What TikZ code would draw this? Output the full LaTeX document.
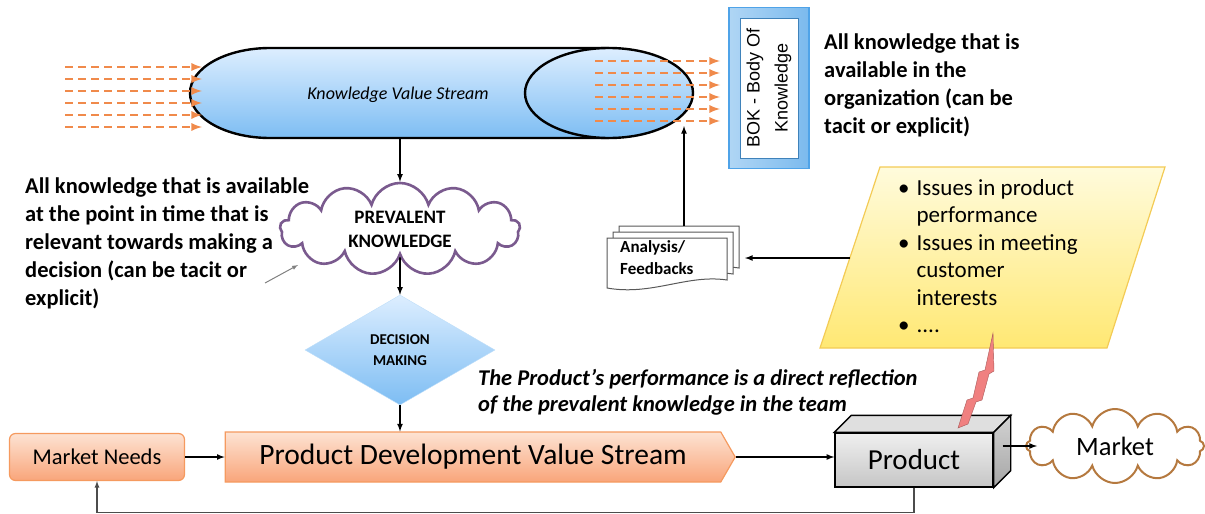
\documentclass[tikz,border=0pt]{standalone}
\usepackage{fontspec}
\setmainfont{Carlito}
\newfontfamily\bokfont{Liberation Sans}
\usetikzlibrary{shapes.symbols,shapes.geometric,positioning}
\definecolor{kvstop}{HTML}{DDEEFF}
\definecolor{kvsbot}{HTML}{7DBDF3}
\definecolor{dashorange}{HTML}{F08A4B}
\definecolor{cloudpurple}{HTML}{7A5A8E}
\definecolor{cloudbrown}{HTML}{B5793F}
\definecolor{pdtop}{HTML}{FDE3D3}
\definecolor{pdbot}{HTML}{F9A57A}
\definecolor{pdline}{HTML}{F59A5F}
\definecolor{yeltop}{HTML}{FFFBDC}
\definecolor{yelbot}{HTML}{FFE873}
\definecolor{yelline}{HTML}{F3CB55}
\definecolor{bokblue}{HTML}{4FA3E8}
\definecolor{bolt}{HTML}{F08080}
\tikzset{
  flowarrow/.style={-latex,line width=1.6pt},
  dasharrow/.style={-latex,dashorange,line width=2.6pt,dash pattern=on 8pt off 5pt},
  notetext/.style={anchor=north west,inner sep=0pt,align=left,font=\bfseries\fontsize{22.5}{28}\selectfont},
  orangebox/.style={draw=pdline,line width=1.2pt,top color=pdtop,bottom color=pdbot},
  docbox/.style={draw=gray!70!black,line width=1pt,fill=white}
}
\begin{document}
\begin{tikzpicture}[x=1pt,y=-1pt]
\useasboundingbox (0,0) rectangle (1205,514);
% knowledge value stream (cylinder)
\fill [top color=kvstop,bottom color=kvsbot] (270,48) -- (609,48) -- (609,138) -- (270,138)
   .. controls (225.8,138) and (190,117.9) .. (190,93)
   .. controls (190,68.1) and (225.8,48) .. (270,48) -- cycle;
\draw [line width=2.4pt] (609,48) -- (270,48) .. controls (225.8,48) and (190,68.1) .. (190,93)
   .. controls (190,117.9) and (225.8,138) .. (270,138) -- (609,138);
\draw [line width=2.4pt,top color=kvstop,bottom color=kvsbot] (609,93) ellipse [x radius=84,y radius=45];
\node [font=\itshape\fontsize{18}{22}\selectfont] (kvs) at (398,95) {Knowledge Value Stream};
\coordinate (kvsB) at (400,139);
\coordinate (kvsR) at (684,126);
\foreach \y in {67,79,...,127}
  \draw [dasharrow] (65,\y) -- (202,\y);
\foreach \y in {61,73,...,121}
  \draw [dasharrow] (595,\y) -- (720,\y);
% body of knowledge
\node [draw=bokblue,line width=1.2pt,left color=bokblue!45,right color=bokblue!75,minimum width=80pt,minimum height=161pt] (bok) at (769,88) {};
\node [draw=bokblue!80!black,line width=1pt,fill=white,minimum width=58pt,minimum height=140pt] (bokin) at (bok) {};
\node [rotate=90,align=center,font=\bokfont\fontsize{18}{28}\selectfont] at (bok) {BOK - Body Of\\Knowledge};
\node [notetext] (orgnote) at (824,34) {All knowledge that is\\available in the\\organization (can be\\tacit or explicit)};
% prevalent knowledge
\node [cloud,cloud puffs=13,cloud ignores aspect,draw=cloudpurple,line width=2.6pt,fill=white,
   minimum width=240pt,minimum height=92pt,align=center,font=\bfseries\fontsize{19}{24}\selectfont] (prev) at (400,229) {PREVALENT\\KNOWLEDGE};
\node [notetext] (prevnote) at (25,178) {All knowledge that is available\\at the point in time that is\\relevant towards making a\\decision (can be tacit or\\explicit)};
\coordinate (ptA) at (265,283);
\coordinate (ptB) at (298,265);
\draw [-latex,gray,line width=1pt] (ptA) -- (ptB);
\draw [flowarrow] (kvsB) -- (prev.north);
% decision making
\node [diamond,minimum width=190pt,minimum height=110pt,inner sep=0pt,draw=kvsbot!50,
   top color=kvstop,bottom color=kvsbot,align=center,font=\bfseries\fontsize{15}{21}\selectfont] (dm) at (400,350) {DECISION\\MAKING};
\draw [flowarrow] (prev.south) -- (dm.north);
% bottom row
\node [orangebox,rounded corners=6pt,minimum width=175pt,minimum height=47pt,font=\fontsize{22.5}{26}\selectfont] (mneeds) at (97,457) {Market Needs};
\node [orangebox,signal,signal to=east,signal pointer angle=120,minimum width=510pt,minimum height=50pt,
   font=\fontsize{29.5}{34}\selectfont] (pdvs) at (473,457) {Product Development Value Stream};
\draw [flowarrow] (dm.south) -- (dm.south |- pdvs.north);
\draw [flowarrow] (mneeds) -- (pdvs);
\node [anchor=north west,inner sep=0pt,align=left,font=\bfseries\itshape\fontsize{22.5}{26}\selectfont] (perf) at (478,369)
   {The Product’s performance is a direct reflection\\of the prevalent knowledge in the team};
% product box
\node [draw,line width=1.4pt,top color=gray!12,bottom color=gray!45,minimum width=158pt,minimum height=54pt,
   font=\fontsize{29}{32}\selectfont] (product) at (914,460) {Product};
\draw [line width=1.4pt,fill=gray!25] (product.north west) -- ++(17,-17) -- ([shift={(17,-17)}]product.north east) -- (product.north east) -- cycle;
\draw [line width=1.4pt,top color=gray!35,bottom color=gray!70] (product.north east) -- ++(17,-17) -- ([shift={(17,-17)}]product.south east) -- (product.south east) -- cycle;
\draw [flowarrow] (pdvs.east) -- (pdvs.east -| product.west);
\node [cloud,cloud puffs=12,cloud ignores aspect,draw=cloudbrown,line width=2pt,fill=white,
   minimum width=178pt,minimum height=74pt,font=\fontsize{26.5}{30}\selectfont] (market) at (1115,446) {Market};
\draw [flowarrow] ([xshift=9pt]product.east |- market.west) -- ([xshift=12pt]market.west);
\draw [-latex,gray!60!black,line width=1.2pt] (product.south) -- ++(0,25) -| (mneeds.south);
% issues
\draw [draw=yelline,line width=1.2pt,top color=yeltop,bottom color=yelbot] (880,167) -- (1165,167) -- (1107,348) -- (820,348) -- cycle;
\node [anchor=north west,inner sep=0pt,font=\fontsize{23}{27.5}\selectfont] (issues) at (898,176)
   {\begin{tabular}{@{}l@{\hspace{7pt}}l@{}}
    \textbullet & Issues in product\\
                & performance\\
    \textbullet & Issues in meeting\\
                & customer\\
                & interests\\
    \textbullet & ....
   \end{tabular}};
\coordinate (issuesL) at (850,258);
\draw [draw=bolt!70!black,fill=bolt] (993,333) -- (985,370) -- (979,372) -- (973,398) -- (967,400) -- (958,428)
   -- (968,424) -- (976,402) -- (982,400) -- (989,374) -- (994,371) -- cycle;
% analysis / feedbacks
\foreach \d in {12,6,0}
  \draw [docbox] (607+\d,238-\d) -- ++(120,0) -- ++(0,42) .. controls +(-40,-6) and +(45,8) .. ++(-120,8) -- cycle;
\node [anchor=north west,align=left,inner sep=0pt,font=\bfseries\fontsize{17}{22}\selectfont] (ana) at (620,240) {Analysis/\\Feedbacks};
\coordinate (anaR) at (745,258);
\coordinate (anaT) at (684,226);
\draw [flowarrow] (issuesL) -- (anaR);
\draw [flowarrow] (anaT) -- (kvsR);
\end{tikzpicture}
\end{document}
